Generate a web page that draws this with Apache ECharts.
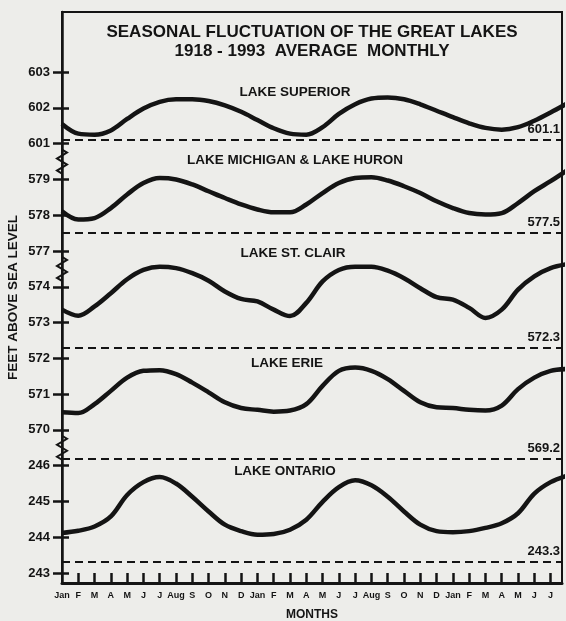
<!DOCTYPE html>
<html>
<head>
<meta charset="utf-8">
<script src="https://cdn.jsdelivr.net/npm/echarts@6/dist/echarts.min.js"></script>
<style>
html,body{margin:0;padding:0;background:#ededea;}
#c{width:566px;height:621px;}
</style>
</head>
<body>
<div id="c"></div>
<script>
// ---- data ----
const months = ['Jan','F','M','A','M','J','J','Aug','S','O','N','D','Jan','F','M','A','M','J','J','Aug','S','O','N','D','Jan','F','M','A','M','J','J','Aug'];
// y tick labels from bottom to top (broken axis)
const yTickLabels = ['243','244','245','246','570','571','572','573','574','577','578','579','601','602','603'];

const superior = [601.55,601.28,601.25,601.37,601.69,601.98,602.17,602.24,602.24,602.19,602.07,601.89,601.66,601.43,601.28,601.25,601.46,601.83,602.10,602.26,602.29,602.24,602.10,601.92,601.74,601.57,601.44,601.39,601.46,601.64,601.87,602.12];
const michiganHuron = [578.11,577.88,577.92,578.20,578.58,578.90,579.04,579.00,578.86,578.67,578.48,578.30,578.16,578.08,578.08,578.30,578.62,578.90,579.04,579.06,578.97,578.81,578.62,578.39,578.20,578.06,578.02,578.06,578.34,578.67,578.95,579.25];
const stClair = [573.36,573.19,573.45,573.82,574.21,574.47,574.56,574.52,574.38,574.17,573.87,573.66,573.59,573.36,573.18,573.55,574.15,574.47,574.56,574.56,574.45,574.24,573.96,573.71,573.64,573.41,573.13,573.36,573.92,574.29,574.52,574.63];
const erie = [570.49,570.47,570.72,571.09,571.46,571.65,571.67,571.56,571.32,571.05,570.77,570.61,570.56,570.51,570.54,570.72,571.23,571.65,571.74,571.65,571.42,571.09,570.77,570.63,570.61,570.56,570.54,570.68,571.14,571.46,571.65,571.70];
const ontario = [244.12,244.18,244.30,244.58,245.18,245.54,245.68,245.50,245.13,244.72,244.35,244.17,244.07,244.09,244.21,244.49,244.99,245.40,245.59,245.45,245.13,244.72,244.35,244.17,244.14,244.17,244.26,244.39,244.67,245.22,245.54,245.72];

const lakeNames = ['LAKE SUPERIOR','LAKE MICHIGAN & LAKE HURON','LAKE ST. CLAIR','LAKE ERIE','LAKE ONTARIO'];
const lakeValues = [superior, michiganHuron, stClair, erie, ontario];
const lakeBase = [601, 578, 573, 570, 244];        // a labelled tick inside each panel
const lakeAverage = [601.1, 577.5, 572.3, 569.2, 243.3];

// ---- build ----
const FONT = '"Liberation Sans", Arial, Helvetica, sans-serif';
const INK = '#141414';
function offsetFor(i){ return yTickLabels.indexOf(String(lakeBase[i])) - lakeBase[i]; }
const tickIdx = yTickLabels.map((_, i) => i);
const xTicks = months.slice(0, 31).map((_, i) => i);

const chart = echarts.init(document.getElementById('c'), null, {renderer: 'canvas'});

const series = lakeValues.map((vals, i) => {
  const off = offsetFor(i);
  return {
    type: 'line',
    name: lakeNames[i],
    smooth: 0.35,
    symbol: 'none',
    clip: true,
    lineStyle: {color: INK, width: 4.5},
    data: vals.map((v, k) => [k, +(v + off).toFixed(4)]),
    markLine: {
      silent: true,
      symbol: 'none',
      lineStyle: {color: INK, type: [8, 5], width: 2},
      label: {
        show: true, position: 'insideEndTop', distance: [2, 4],
        formatter: String(lakeAverage[i]),
        color: INK, fontFamily: FONT, fontWeight: 'bold', fontSize: 13
      },
      data: [{yAxis: +(lakeAverage[i] + off).toFixed(4)}]
    }
  };
});

const option = {
  backgroundColor: '#ededea',
  animation: false,
  grid: {left: 62, right: 4, top: 12, bottom: 38, show: true, borderColor: INK, borderWidth: 2,
         backgroundColor: 'transparent', outerBoundsMode: 'none', containLabel: false},
  xAxis: {
    type: 'value', min: 0, max: 30.7,
    name: 'MONTHS', nameLocation: 'middle', nameGap: 26,
    nameTextStyle: {color: INK, fontFamily: FONT, fontWeight: 'bold', fontSize: 12},
    axisLine: {show: true, onZero: false, lineStyle: {color: INK, width: 3}},
    axisTick: {show: true, inside: true, length: 10, lineStyle: {color: INK, width: 2.5}, customValues: xTicks.slice(1)},
    axisLabel: {
      show: true, customValues: xTicks, margin: 8,
      formatter: v => months[Math.round(v)] || '',
      color: INK, fontFamily: FONT, fontWeight: 'bold', fontSize: 9
    },
    splitLine: {show: false}
  },
  yAxis: [{
    type: 'value', min: -0.28, max: 15.68,
    name: 'FEET ABOVE SEA LEVEL', nameLocation: 'middle', nameGap: 42, nameRotate: 90, nameMoveOverlap: false,
    nameTextStyle: {color: INK, fontFamily: FONT, fontWeight: 'bold', fontSize: 13.5},
    axisLine: {show: true, onZero: false, lineStyle: {color: INK, width: 2.5}},
    axisTick: {show: true, length: 9, lineStyle: {color: INK, width: 2.5}, customValues: tickIdx},
    axisLabel: {
      show: true, customValues: tickIdx, margin: 12,
      formatter: v => yTickLabels[Math.round(v)] || '',
      color: INK, fontFamily: FONT, fontWeight: 'bold', fontSize: 13
    },
    splitLine: {show: false}
  }, {
    type: 'value', min: -0.28, max: 15.68, position: 'left',
    axisLine: {show: false, onZero: false},
    axisTick: {show: true, inside: true, length: 7, lineStyle: {color: INK, width: 2.5}, customValues: tickIdx},
    axisLabel: {show: false},
    splitLine: {show: false}
  }],
  series: series
};
chart.setOption(option);

// ---- decorations: title, lake names, axis break marks ----
const graphics = [];
const titleLines = ['SEASONAL FLUCTUATION OF THE GREAT LAKES', '1918 - 1993  AVERAGE  MONTHLY'];
titleLines.forEach((t, i) => graphics.push({
  type: 'text', x: 312, y: 32 + i * 19, z: 10,
  style: {text: t, fill: INK, font: 'bold 17px ' + FONT, textAlign: 'center', textVerticalAlign: 'middle'}
}));
const lakeLabelPos = [[295, 92], [295, 160], [293, 253], [287, 363], [285, 471]];
lakeNames.forEach((n, i) => graphics.push({
  type: 'text', x: lakeLabelPos[i][0], y: lakeLabelPos[i][1], z: 10,
  style: {text: n, fill: INK, font: 'bold 13.5px ' + FONT, textAlign: 'center', textVerticalAlign: 'middle'}
}));
// break marks between panels on the y axis
[11.5, 8.5, 3.5].forEach(v => {
  const p = chart.convertToPixel({yAxisIndex: 0}, v);
  const x = 62;
  graphics.push({
    type: 'polyline', z: 10,
    shape: {points: [[x, p - 12], [x + 5, p - 9], [x - 5, p - 3], [x + 5, p + 3], [x - 5, p + 9], [x, p + 12]]},
    style: {stroke: INK, lineWidth: 2, fill: null}
  });
});
chart.setOption({graphic: graphics});
</script>
</body>
</html>
